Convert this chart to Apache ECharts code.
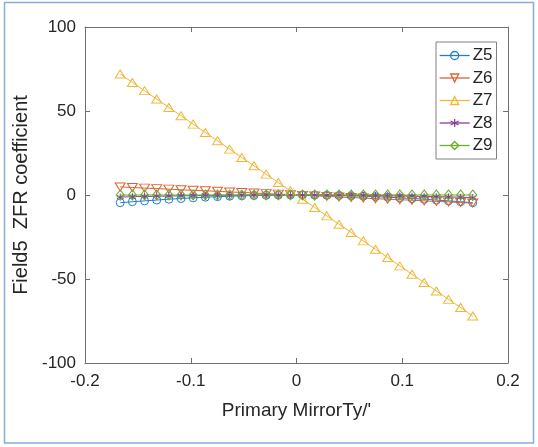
<!DOCTYPE html>
<html>
<head>
<meta charset="utf-8">
<script src="https://cdn.jsdelivr.net/npm/echarts@6/dist/echarts.min.js"></script>
<style>html,body{margin:0;padding:0;background:#fff}#c{width:538px;height:447px}</style>
</head>
<body>
<div id="c"></div>
<script>
const xValues = [-0.1667,-0.1552,-0.1437,-0.1322,-0.1207,-0.1092,-0.0977,-0.0862,-0.0747,-0.0632,-0.0517,-0.0402,-0.0287,-0.0172,-0.0057,0.0057,0.0172,0.0287,0.0402,0.0517,0.0632,0.0747,0.0862,0.0977,0.1092,0.1207,0.1322,0.1437,0.1552,0.1667];
const z5 = [-4.6,-4.0,-3.5,-3.0,-2.5,-2.1,-1.7,-1.3,-1.0,-0.7,-0.5,-0.3,-0.15,-0.05,0.0,0.0,-0.05,-0.15,-0.3,-0.5,-0.7,-1.0,-1.3,-1.7,-2.1,-2.5,-3.0,-3.5,-4.0,-4.6];
const z6 = [4.8,4.5,4.1,3.8,3.5,3.1,2.8,2.5,2.2,1.8,1.5,1.2,0.8,0.5,0.2,-0.2,-0.5,-0.8,-1.2,-1.5,-1.8,-2.2,-2.5,-2.8,-3.1,-3.5,-3.8,-4.1,-4.5,-4.8];
const z7 = [72.0,67.0,62.1,57.1,52.1,47.2,42.2,37.2,32.3,27.3,22.3,17.4,12.4,7.4,2.5,-2.5,-7.4,-12.4,-17.4,-22.3,-27.3,-32.3,-37.2,-42.2,-47.2,-52.1,-57.1,-62.1,-67.0,-72.0];
const z8 = [-1.2,-1.0,-0.9,-0.75,-0.6,-0.5,-0.4,-0.3,-0.2,-0.15,-0.1,-0.05,0.0,0.0,0.0,0.0,0.0,-0.05,-0.1,-0.15,-0.25,-0.35,-0.45,-0.55,-0.7,-0.85,-1.0,-1.15,-1.3,-1.5];
const z9 = [0.0,0.0,0.0,0.0,0.0,0.0,0.0,0.0,0.0,0.0,0.0,0.0,0.0,0.0,0.0,0.0,0.0,0.0,0.0,0.0,0.0,0.0,0.0,0.0,0.0,0.0,0.0,0.0,0.0,0.0];
const seriesNames = ['Z5','Z6','Z7','Z8','Z9'];
const xTicks = ['-0.2','-0.1','0','0.1','0.2'];
const yTicks = ['-100','-50','0','50','100'];

const colors = ['#1f80c8','#dd6230','#efb838','#86409a','#6fae2e'];
const allData = [z5, z6, z7, z8, z9];
const symbols = ['circle','triangle','triangle','path://M0,-10L0,10M-8.66,-5L8.66,5M-8.66,5L8.66,-5','diamond'];
const symRot = [0,180,0,0,0];
const symSize = [8,[10,8],[10,8],7,[8,10]];
const axisCol = '#707070';
const font = 'Liberation Sans, Arial, Helvetica, sans-serif';

function mk(i){
  return {
    name: seriesNames[i],
    type: 'line',
    data: xValues.map((x,k)=>[x, allData[i][k]]),
    symbol: symbols[i],
    symbolRotate: symRot[i],
    symbolSize: symSize[i],
    showAllSymbol: true,
    lineStyle: {color: colors[i], width: 1},
    itemStyle: {color: 'rgba(255,255,255,0)', borderColor: colors[i], borderWidth: 1},
    emphasis: {disabled: true},
    animation: false
  };
}

function xfmt(v){ const i = Math.round((v+0.2)/0.1); return xTicks[i] !== undefined ? xTicks[i] : ''; }
function yfmt(v){ const i = Math.round((v+100)/50); return yTicks[i] !== undefined ? yTicks[i] : ''; }

const chart = echarts.init(document.getElementById('c'), null, {renderer:'canvas'});
chart.setOption({
  backgroundColor: '#fff',
  animation: false,
  grid: {left: 85, right: 30, top: 27, bottom: 84, containLabel: false},
  graphic: [{
    type: 'rect', shape: {x: 4.5, y: 2.5, width: 529, height: 440.5},
    style: {fill: 'none', stroke: '#86acdc', lineWidth: 1.5}, silent: true, z: -10
  }],
  legend: {
    orient: 'vertical', left: 436, top: 42,
    data: seriesNames.map((n,i)=>({
      name: n,
      itemStyle: {color: 'rgba(255,255,255,0)', borderColor: colors[i], borderWidth: 1.3},
      lineStyle: {color: colors[i], width: 1.3}
    })),
    backgroundColor: '#fff', borderColor: '#808080', borderWidth: 1,
    padding: [5, 4, 5, 3], itemWidth: 30, itemHeight: 10, itemGap: 5.5,
    textStyle: {fontFamily: font, fontSize: 17, color: '#262626', padding: [0,0,0,-2]},
    symbolRotate: 'inherit'
  },
  xAxis: [{
    type: 'value', min: -0.2, max: 0.2, interval: 0.1, position: 'bottom',
    name: "Primary MirrorTy/'", nameLocation: 'middle', nameGap: 38,
    nameTextStyle: {fontFamily: font, fontSize: 19, color: '#262626'},
    axisLine: {show: true, onZero: false, lineStyle: {color: axisCol, width: 1}},
    axisTick: {show: true, inside: true, length: 5, lineStyle: {color: axisCol}},
    axisLabel: {fontFamily: font, fontSize: 17, color: '#262626', margin: 10, formatter: xfmt},
    splitLine: {show: false}
  },{
    type: 'value', min: -0.2, max: 0.2, interval: 0.1, position: 'top',
    axisLine: {show: true, onZero: false, lineStyle: {color: axisCol, width: 1}},
    axisTick: {show: true, inside: true, length: 5, lineStyle: {color: axisCol}},
    axisLabel: {show: false}, splitLine: {show: false}
  }],
  yAxis: [{
    type: 'value', min: -100, max: 100, interval: 50, position: 'left',
    name: 'Field5  ZFR coefficient', nameLocation: 'middle', nameGap: 33,
    nameTextStyle: {fontFamily: font, fontSize: 20, color: '#262626'},
    axisLine: {show: true, onZero: false, lineStyle: {color: axisCol, width: 1}},
    axisTick: {show: true, inside: true, length: 5, lineStyle: {color: axisCol}},
    axisLabel: {fontFamily: font, fontSize: 17, color: '#262626', margin: 9, formatter: yfmt},
    splitLine: {show: false}
  },{
    type: 'value', min: -100, max: 100, interval: 50, position: 'right',
    axisLine: {show: true, onZero: false, lineStyle: {color: axisCol, width: 1}},
    axisTick: {show: true, inside: true, length: 5, lineStyle: {color: axisCol}},
    axisLabel: {show: false}, splitLine: {show: false}
  }],
  series: [0,1,2,3,4].map(mk)
});
</script>
</body>
</html>
